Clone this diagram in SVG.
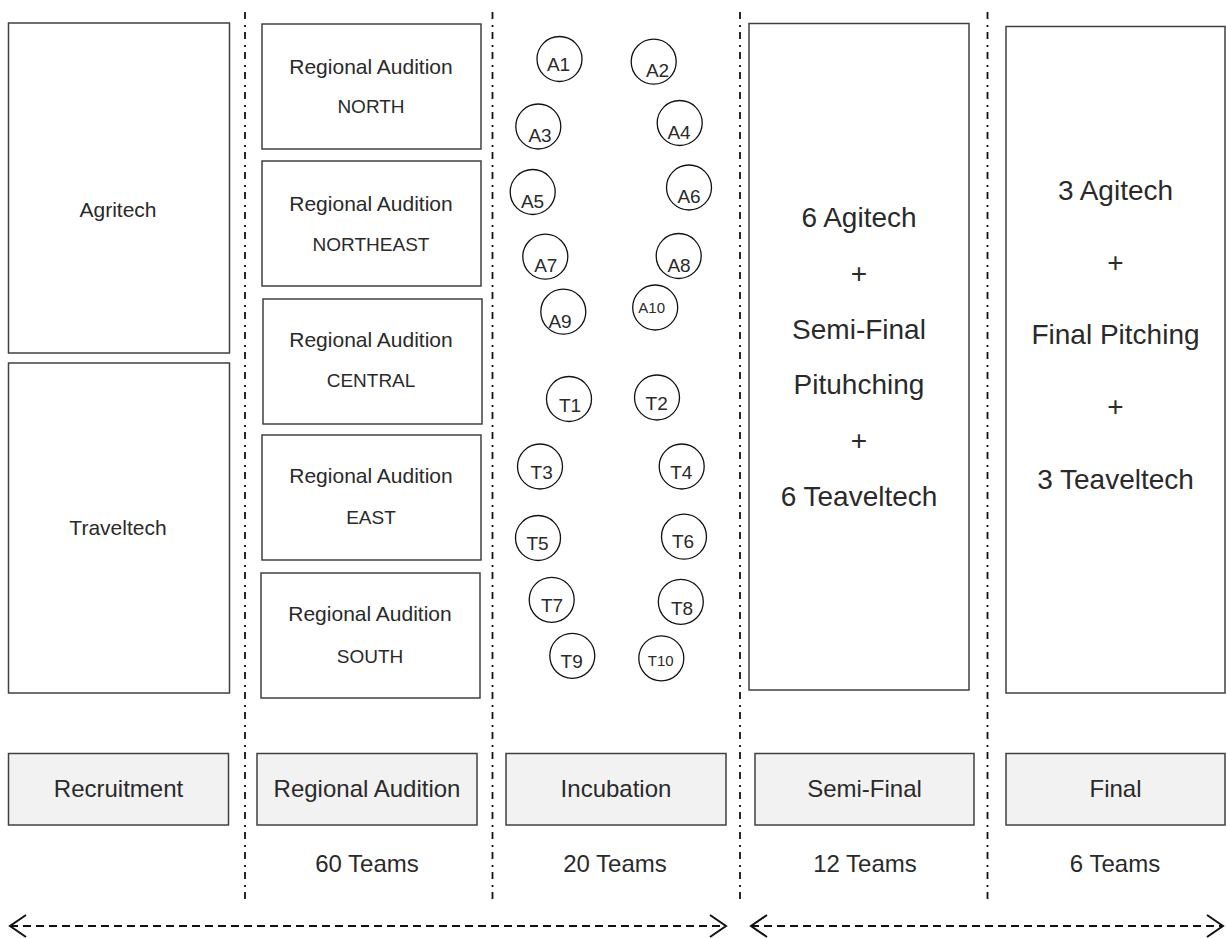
<svg xmlns="http://www.w3.org/2000/svg" width="1226" height="938" viewBox="0 0 1226 938">
<defs>
<style>
text{font-family:"Liberation Sans",Arial,sans-serif;fill:#2a2a2a;text-anchor:middle}
.box{fill:#fff;stroke:#404040;stroke-width:1.5}
.grey{fill:#f2f2f2;stroke:#404040;stroke-width:1.5}
.c{fill:#fff;stroke:#111;stroke-width:1.3}
.sep{stroke:#111;stroke-width:1.8;stroke-dasharray:7 6 2 5;fill:none}
.arr{stroke:#111;stroke-width:2;stroke-dasharray:8 5;fill:none}
.t21{font-size:21px}.t19{font-size:19px}.t18{font-size:19px}.t15{font-size:15px}.t24{font-size:24px}.t28{font-size:28px}
</style>
<marker id="chev" viewBox="0 0 20 26" refX="18" refY="13" markerWidth="20" markerHeight="26" markerUnits="userSpaceOnUse" orient="auto-start-reverse">
<path d="M2,2 L18,13 L2,24" fill="none" stroke="#111" stroke-width="2" stroke-dasharray="none"/>
</marker>
</defs>
<rect width="1226" height="938" fill="#fff"/>

<g id="separators">
<line class="sep" x1="245" y1="12" x2="245" y2="900"/>
<line class="sep" x1="492.5" y1="12" x2="492.5" y2="900"/>
<line class="sep" x1="740" y1="12" x2="740" y2="900"/>
<line class="sep" x1="987.5" y1="12" x2="987.5" y2="900"/>
</g>

<g id="agritech"><rect class="box" x="8.5" y="23" width="221" height="330"/><text class="t21" x="118" y="217">Agritech</text></g>
<g id="traveltech"><rect class="box" x="8.5" y="363" width="221" height="330"/><text class="t21" x="118" y="535">Traveltech</text></g>

<g id="ra-north"><rect class="box" x="262" y="24" width="219" height="125"/><text class="t21" x="371" y="74">Regional Audition</text><text class="t19" x="371" y="113">NORTH</text></g>
<g id="ra-northeast"><rect class="box" x="262" y="161" width="219" height="125"/><text class="t21" x="371" y="211">Regional Audition</text><text class="t19" x="371" y="251">NORTHEAST</text></g>
<g id="ra-central"><rect class="box" x="263" y="299" width="219" height="125"/><text class="t21" x="371" y="347">Regional Audition</text><text class="t19" x="371" y="387">CENTRAL</text></g>
<g id="ra-east"><rect class="box" x="262" y="435" width="219" height="125"/><text class="t21" x="371" y="483">Regional Audition</text><text class="t19" x="371" y="524">EAST</text></g>
<g id="ra-south"><rect class="box" x="261" y="573" width="219" height="125"/><text class="t21" x="370" y="621">Regional Audition</text><text class="t19" x="370" y="663">SOUTH</text></g>

<g id="A1"><circle class="c" cx="559.5" cy="59" r="22.5"/><text class="t18" x="558.5" y="71">A1</text></g>
<g id="A2"><circle class="c" cx="653.7" cy="61.7" r="22.5"/><text class="t18" x="657.5" y="76.5">A2</text></g>
<g id="A3"><circle class="c" cx="538.3" cy="126.5" r="22.5"/><text class="t18" x="540" y="141.5">A3</text></g>
<g id="A4"><circle class="c" cx="679.7" cy="123" r="22.5"/><text class="t18" x="679" y="139">A4</text></g>
<g id="A5"><circle class="c" cx="532.7" cy="192" r="22.5"/><text class="t18" x="532.5" y="208">A5</text></g>
<g id="A6"><circle class="c" cx="689" cy="187.5" r="22.5"/><text class="t18" x="689" y="202.5">A6</text></g>
<g id="A7"><circle class="c" cx="545.3" cy="256.7" r="22.5"/><text class="t18" x="545.8" y="271.5">A7</text></g>
<g id="A8"><circle class="c" cx="678.7" cy="256" r="22.5"/><text class="t18" x="679" y="271.5">A8</text></g>
<g id="A9"><circle class="c" cx="563.3" cy="311.7" r="22.5"/><text class="t18" x="560" y="328">A9</text></g>
<g id="A10"><circle class="c" cx="655.2" cy="307.5" r="22.5"/><text class="t15" x="651.7" y="313">A10</text></g>

<g id="T1"><circle class="c" cx="569" cy="399" r="22.5"/><text class="t18" x="570" y="411.5">T1</text></g>
<g id="T2"><circle class="c" cx="657" cy="397.5" r="22.5"/><text class="t18" x="656.7" y="410">T2</text></g>
<g id="T3"><circle class="c" cx="540" cy="466.5" r="22.5"/><text class="t18" x="541.7" y="479">T3</text></g>
<g id="T4"><circle class="c" cx="681.7" cy="466.5" r="22.5"/><text class="t18" x="681.3" y="479">T4</text></g>
<g id="T5"><circle class="c" cx="538" cy="538" r="22.5"/><text class="t18" x="537.5" y="550">T5</text></g>
<g id="T6"><circle class="c" cx="684" cy="536.7" r="22.5"/><text class="t18" x="683" y="548.3">T6</text></g>
<g id="T7"><circle class="c" cx="551.7" cy="599.8" r="22.5"/><text class="t18" x="552" y="611.7">T7</text></g>
<g id="T8"><circle class="c" cx="680.8" cy="601.8" r="22.5"/><text class="t18" x="682" y="615">T8</text></g>
<g id="T9"><circle class="c" cx="572.3" cy="655.8" r="22.5"/><text class="t18" x="571.7" y="668.3">T9</text></g>
<g id="T10"><circle class="c" cx="661.3" cy="658.3" r="22.5"/><text class="t15" x="660.8" y="665.5">T10</text></g>

<g id="semifinal-box"><rect class="box" x="749" y="23.5" width="220" height="666.5"/>
<text class="t28" x="859" y="227">6 Agitech</text>
<text class="t28" x="859" y="283">+</text>
<text class="t28" x="859" y="338.5">Semi-Final</text>
<text class="t28" x="859" y="394">Pituhching</text>
<text class="t28" x="859" y="450">+</text>
<text class="t28" x="859" y="505.5">6 Teaveltech</text>
</g>
<g id="final-box"><rect class="box" x="1006" y="26.5" width="219" height="666.5"/>
<text class="t28" x="1115.5" y="199.5">3 Agitech</text>
<text class="t28" x="1115.5" y="271.5">+</text>
<text class="t28" x="1115.5" y="343.5">Final Pitching</text>
<text class="t28" x="1115.5" y="416">+</text>
<text class="t28" x="1115.5" y="488.5">3 Teaveltech</text>
</g>

<g id="stage-recruitment"><rect class="grey" x="8.5" y="753.5" width="220" height="71.5"/><text class="t24" x="118.5" y="797">Recruitment</text></g>
<g id="stage-regional"><rect class="grey" x="257" y="753.5" width="220" height="71.5"/><text class="t24" x="367" y="797">Regional Audition</text><text class="t24" x="367" y="872">60 Teams</text></g>
<g id="stage-incubation"><rect class="grey" x="506" y="753.5" width="220" height="71.5"/><text class="t24" x="616" y="797">Incubation</text><text class="t24" x="615" y="872">20 Teams</text></g>
<g id="stage-semifinal"><rect class="grey" x="755" y="753.5" width="219" height="71.5"/><text class="t24" x="864.5" y="797">Semi-Final</text><text class="t24" x="865" y="872">12 Teams</text></g>
<g id="stage-final"><rect class="grey" x="1006" y="753.5" width="219" height="71.5"/><text class="t24" x="1115.5" y="797">Final</text><text class="t24" x="1115" y="872">6 Teams</text></g>

<g id="connectors">
<line class="arr" x1="10" y1="926" x2="726" y2="926" marker-start="url(#chev)" marker-end="url(#chev)"/>
<line class="arr" x1="751" y1="926" x2="1223" y2="926" marker-start="url(#chev)" marker-end="url(#chev)"/>
</g>
</svg>
